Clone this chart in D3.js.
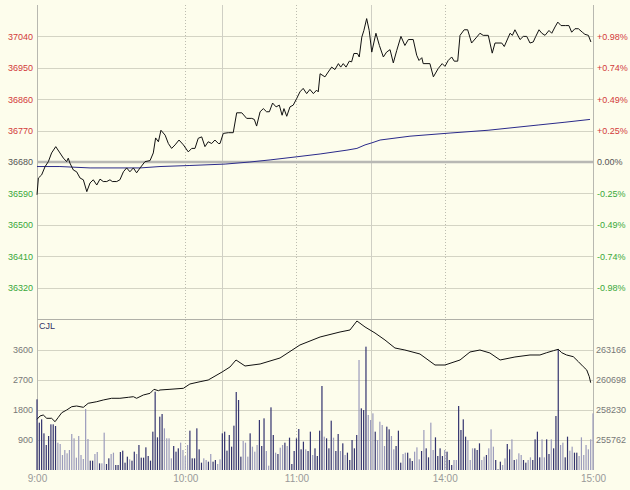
<!DOCTYPE html>
<html><head><meta charset="utf-8">
<script src="https://cdn.jsdelivr.net/npm/d3@7"></script>
<style>
html,body{margin:0;padding:0;background:#fdfdec;}
svg{display:block;}
text{font-family:"Liberation Sans",Arial,sans-serif;}
</style></head>
<body><svg id="c" width="630" height="490"></svg>
<script>
// ---------- data ----------
const baseClose = 36680;
const priceTicks = [36320,36410,36500,36590,36680,36770,36860,36950,37040];
const pctLabels = ["-0.98%","-0.74%","-0.49%","-0.25%","0.00%","+0.25%","+0.49%","+0.74%","+0.98%"];
const volTicks = [900,1800,2700,3600];
const rightVolTicks = [255762,258230,260698,263166];
const timeTicks = [0,64,112,176,240];
const timeLabels = ["9:00","10:00","11:00","14:00","15:00"];
const dottedGrid = [64,112,176];
const solidGrid = [80,144];

const priceTime = [0,0.6,2,3.5,4.9,6.3,8.1,9.9,11.4,12.8,13.5,14.2,15.7,17.1,18.6,20,21.5,22.9,24.3,25.8,27.2,28.6,30.1,31.5,32.5,34.4,35.8,37.3,38.7,40.1,41.6,43,44.5,46.6,48.8,50.2,51.2,52.4,53.5,55.3,56.7,58.1,59.6,61.3,63.2,65.3,66.8,68.2,69.6,71.1,72.5,73.9,75.4,76.8,78.3,79,80.4,82.6,84.7,86.2,88.4,90.5,92.7,93.8,94.8,96.3,97.7,99.1,100.3,101.7,103.2,104.6,105.8,106.6,107.8,109.2,110.6,112.1,113.5,114.9,116.4,117.8,119.3,120.7,121.4,122.2,124.3,125.7,127.2,128.6,130.1,131.1,132.2,133.4,134.8,135.8,136.8,138.3,139.1,140.2,141.1,142.3,143.4,144.5,146.3,147.8,149.5,150.9,152.4,153.8,155.3,157.1,158.8,160.3,162.4,163.9,164.9,166.1,166.7,169.6,171.1,173.2,174.9,176.1,177.5,179,180.1,181.6,182.6,184.4,185.9,187.6,189.8,191.2,192.6,194.8,196.5,197.7,200.6,201.7,204.2,205.2,206.3,208.5,209.9,211.4,212.8,214.2,215.3,216.7,217.9,219.3,221,222.2,223.6,224.8,226.2,228.2,229.6,230.8,232.2,233.7,235.4,236.5,238,239.1];
const priceVal = [36586,36634,36643,36667,36681,36706,36724,36706,36691,36681,36691,36677,36657,36652,36634,36629,36595,36620,36629,36614,36631,36624,36624,36629,36624,36624,36629,36652,36663,36652,36663,36649,36663,36681,36684,36706,36749,36738,36771,36757,36733,36719,36729,36743,36729,36709,36719,36719,36748,36752,36724,36738,36733,36743,36733,36733,36762,36764,36764,36821,36821,36805,36805,36802,36783,36824,36833,36824,36824,36849,36838,36843,36814,36833,36811,36838,36843,36862,36881,36891,36876,36888,36876,36886,36881,36933,36924,36938,36952,36945,36962,36952,36962,36952,36969,36967,36991,36991,36981,37038,37057,37091,37057,36995,37049,37014,36981,36995,37002,36964,37000,37040,37014,37031,37031,36986,36971,36979,36962,36962,36924,36948,36962,36954,36971,36981,36969,36969,37043,37059,37059,37021,37038,37049,37043,37043,36992,37021,37021,37011,37049,37043,37059,37031,37040,37040,37021,37024,37040,37059,37049,37043,37057,37049,37067,37081,37071,37071,37071,37052,37062,37062,37052,37046,37043,37024];

const avgTime = [0,9.9,22.9,44.5,53.1,66,81.2,91.9,100.6,112.2,122.2,133.8,138.1,141.6,144.6,148.1,161,178.3,194.7,216.3,227.9,238.7];
const avgVal = [36667,36667,36663,36663,36667,36670,36674,36680,36686,36695,36703,36714,36719,36729,36735,36743,36754,36763,36771,36786,36794,36802];

const lowTime = [0,1.3,2.7,4.2,6.3,7.8,9.2,10.7,12.8,15,17.1,20,22.1,25.8,28.6,32.2,35.8,39.4,41.6,43,45.9,48.8,50.5,52.4,53.1,57.4,63.2,66,70.4,73.9,79.9,83.3,85.9,89.8,96.3,104.9,113.5,122.2,130.8,135.1,138.1,141.6,145.9,150.2,154.5,158.8,165.3,171.8,176.1,182.6,186.9,191.2,195.5,199.9,206.3,212.8,217.1,220,222.9,225,226.5,228.6,231.5,233.7,235.8,237.3,238.4,239];
const lowVal = [257465,257737,257819,257547,257547,257268,257630,258008,258230,258502,258559,258452,258781,258913,259053,259193,259193,259275,259324,259193,259464,259604,259933,259818,259876,259933,260015,260369,260558,260698,261356,261768,262344,261850,262015,262508,263578,264236,264647,264812,265552,265059,264565,263989,263331,263166,262837,261932,261932,262344,263002,263166,262920,262344,262591,262755,262755,262944,263109,263224,262944,262755,262615,262204,261792,261521,260970,260476];

const volume = [
2120,1420,1520,1100,750,1020,1370,1370,1320,820,
780,450,600,500,600,1080,950,370,1020,450,
330,1830,930,280,280,480,540,200,200,1120,
180,350,480,520,150,150,540,580,220,400,
320,280,550,480,750,370,370,680,420,280,
1150,
2350,980,1600,1680,1250,950,950,350,720,550,650,820,600,
420,750,1180,350,350,1250,620,220,350,300,250,480,250,300,
180,320,1100,1150,580,1050,700,1330,2340,2100,400,870,820,400,1100,700,
550,750,1500,720,1550,570,130,1880,1050,520,480,
670,750,820,720,970,180,570,950,1230,620,850,
620,570,1150,450,650,420,1180,2520,1000,950,650,1480,970,570,1080,570,800,450,520,300,900,650,1050,3300,1850,1800,3700,1650,1500,1700,1150,900,
1450,1350,720,1300,1220,1020,620,720,1180,220,480,
520,520,350,270,550,680,320,570,1200,650,380,1420,600,
980,420,650,420,600,550,300,150,300,300,1920,1200,1520,1000,900,300,650,650,600,800,300,400,450,650,1220,700,300,20,250,
150,350,780,620,920,300,320,500,450,300,220,300,380,300,920,1150,380,920,380,920,480,920,650,1620,3630,750,820,380,1000,580,700,
520,520,420,980,450,
750,620,920,1700];

// ---------- drawing ----------
const svg = d3.select("#c");
const L = 37, R = 593, T = 5, MID = 319, B = 470;
const x = d3.scaleLinear().domain([0,240]).range([L,R]);
const yP = d3.scaleLinear().domain([baseClose-450, baseClose+450]).range([MID, T]);
const yV = d3.scaleLinear().domain([0,4500]).range([B, MID+1]);
const yR = d3.scaleLinear().domain([253294,265634]).range([B, MID+1]);

const gridCol = "#d4d4c4";
svg.append("g").selectAll("line").data(priceTicks.filter(d=>d!==baseClose)).join("line")
  .attr("x1",L).attr("x2",R).attr("y1",d=>Math.round(yP(d))+0.5).attr("y2",d=>Math.round(yP(d))+0.5)
  .attr("stroke",gridCol);
svg.append("g").selectAll("line").data(volTicks).join("line")
  .attr("x1",L).attr("x2",R).attr("y1",d=>Math.round(yV(d))+0.5).attr("y2",d=>Math.round(yV(d))+0.5)
  .attr("stroke",gridCol);
svg.append("g").selectAll("line").data(dottedGrid).join("line")
  .attr("x1",d=>Math.round(x(d))+0.5).attr("x2",d=>Math.round(x(d))+0.5).attr("y1",T).attr("y2",B)
  .attr("stroke","#bdbdb0").attr("stroke-dasharray","1,2");
svg.append("g").selectAll("line").data(solidGrid).join("line")
  .attr("x1",d=>Math.round(x(d))+0.5).attr("x2",d=>Math.round(x(d))+0.5).attr("y1",T).attr("y2",B)
  .attr("stroke","#cfcfc4");
svg.append("line").attr("x1",L).attr("x2",R).attr("y1",yP(baseClose)).attr("y2",yP(baseClose))
  .attr("stroke","#b8b8b4").attr("stroke-width",2.5);
svg.append("line").attr("x1",L+0.5).attr("x2",L+0.5).attr("y1",T).attr("y2",B).attr("stroke","#b8b8b0");
svg.append("line").attr("x1",R+0.5).attr("x2",R+0.5).attr("y1",T).attr("y2",B).attr("stroke","#b8b8b0");
svg.append("line").attr("x1",L).attr("x2",R).attr("y1",MID+0.5).attr("y2",MID+0.5).attr("stroke","#b0b0a8");

const pAt = d3.scaleLinear().domain(priceTime).range(priceVal).clamp(true);
svg.append("g").selectAll("rect").data(volume).join("rect")
  .attr("x",(d,i)=>x(i)-0.6).attr("width",1.2)
  .attr("y",d=>yV(d)).attr("height",d=>B-yV(d))
  .attr("fill",(d,i)=> (i===0 || pAt(i) >= pAt(i-1)) ? "#34346f" : "#9c9cbc");

const line = (xs,ys,yScale)=> d3.line().x((d,i)=>x(xs[i])).y((d,i)=>yScale(ys[i]))(xs);
svg.append("path").attr("d",line(avgTime,avgVal,yP)).attr("fill","none").attr("stroke","#2a2a8a").attr("stroke-width",1);
svg.append("path").attr("d",line(priceTime,priceVal,yP)).attr("fill","none").attr("stroke","#111").attr("stroke-width",1);
svg.append("path").attr("d",line(lowTime,lowVal,yR)).attr("fill","none").attr("stroke","#111").attr("stroke-width",1);

const fs = "9px";
const ff = "Liberation Sans, Arial";
const leftAx = svg.append("g").attr("transform",`translate(${L-4},0)`)
  .call(d3.axisLeft(yP).tickValues(priceTicks).tickSize(0).tickPadding(0).tickFormat(d3.format("d")));
leftAx.select(".domain").remove();
leftAx.selectAll("text").attr("font-size",fs).attr("font-family",ff)
  .attr("fill",d=> d>baseClose ? "#d23a3a" : d<baseClose ? "#3aa83a" : "#555");

const pctScale = d3.scaleOrdinal().domain(priceTicks).range(pctLabels);
const rightAx = svg.append("g").attr("transform",`translate(${R+4},0)`)
  .call(d3.axisRight(yP).tickValues(priceTicks).tickSize(0).tickPadding(0).tickFormat(d=>pctScale(d)));
rightAx.select(".domain").remove();
rightAx.selectAll("text").attr("font-size",fs).attr("font-family",ff)
  .attr("fill",d=> d>baseClose ? "#d23a3a" : d<baseClose ? "#3aa83a" : "#555");

const lvAx = svg.append("g").attr("transform",`translate(${L-4},0)`)
  .call(d3.axisLeft(yV).tickValues(volTicks).tickSize(0).tickPadding(0).tickFormat(d3.format("d")));
lvAx.select(".domain").remove();
lvAx.selectAll("text").attr("font-size",fs).attr("font-family",ff).attr("fill","#777");

const rvAx = svg.append("g").attr("transform",`translate(${R+3},0)`)
  .call(d3.axisRight(yR).tickValues(rightVolTicks).tickSize(0).tickPadding(0).tickFormat(d3.format("d")));
rvAx.select(".domain").remove();
rvAx.selectAll("text").attr("font-size",fs).attr("font-family",ff).attr("fill","#777");

const tScale = d3.scaleOrdinal().domain(timeTicks).range(timeLabels);
const xAx = svg.append("g").attr("transform",`translate(0,${B})`)
  .call(d3.axisBottom(x).tickValues(timeTicks).tickSize(0).tickPadding(5).tickFormat(d=>tScale(d)));
xAx.select(".domain").remove();
xAx.selectAll("text").attr("font-size","10px").attr("font-family",ff).attr("fill","#999");

svg.append("text").attr("x",L+2).attr("y",MID+10).attr("font-size","9px").attr("font-family",ff).attr("fill","#333366").text("CJL");
</script>
</body></html>
